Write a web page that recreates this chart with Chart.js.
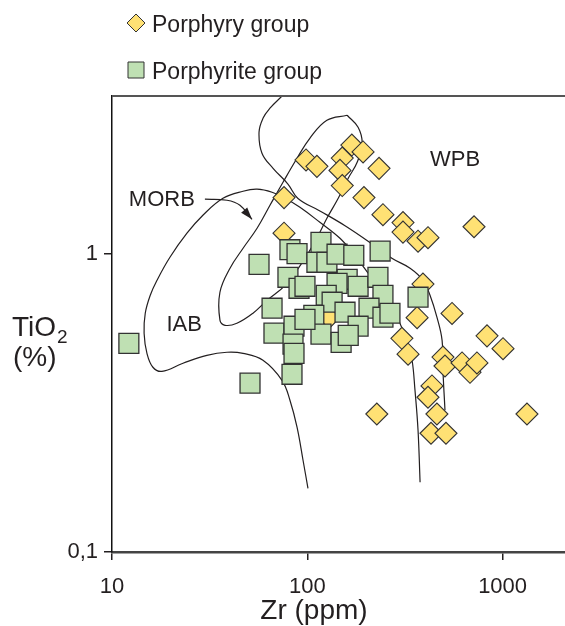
<!DOCTYPE html>
<html>
<head>
<meta charset="utf-8">
<title>TiO2 vs Zr</title>
<script src="https://cdn.jsdelivr.net/npm/chart.js@4.4.1/dist/chart.umd.min.js"></script>
<style>
  html, body { margin: 0; padding: 0; background: #fff; }
  #wrap { position: relative; width: 565px; height: 626px; }
</style>
</head>
<body>
<div id="wrap"><canvas id="chart" width="565" height="626"></canvas></div>
<script>
// --- data (Zr ppm, TiO2 %) ---
const porphyryZr = [98.5, 112, 169, 193, 151, 147, 151, 233, 195, 76, 244, 309, 309, 369, 415, 714, 76,
  391, 365, 551, 129, 305, 328, 832, 1005, 495, 507, 620, 681, 739, 435, 415, 227, 461, 430, 513, 1333];
const porphyryTiO2 = [2.06, 1.96, 2.31, 2.19, 2.09, 1.90, 1.69, 1.93, 1.54, 1.54, 1.35, 1.27, 1.18, 1.10, 1.13, 1.23, 1.17,
  0.79, 0.61, 0.63, 0.61, 0.52, 0.46, 0.53, 0.48, 0.45, 0.42, 0.43, 0.40, 0.43, 0.36, 0.33, 0.29, 0.29, 0.25, 0.25, 0.29];

const porphyriteZr = [117.5, 81.5, 88.6, 112, 126, 142, 173, 236, 56.6, 79.6, 90.7, 97.3, 160, 182, 230, 244, 142, 125, 134,
  66, 108, 156, 207, 244, 265, 369, 67.5, 85.5, 117.5, 182, 149, 84.5, 85.5, 83.5, 12.2, 50.9, 97.3, 162];
const porphyriteTiO2 = [1.09, 1.03, 1.00, 0.935, 0.935, 0.995, 0.987, 1.02, 0.92, 0.833, 0.765, 0.777, 0.82, 0.777, 0.833, 0.725, 0.795, 0.725, 0.687,
  0.656, 0.621, 0.636, 0.656, 0.612, 0.631, 0.714, 0.541, 0.571, 0.537, 0.571, 0.504, 0.497, 0.463, 0.394, 0.50, 0.368, 0.602, 0.532];

// field boundaries
const iabZr = [100.8, 95.1, 88.6, 81.5, 74.2, 59.3, 46.9, 38.8, 30.6, 23.1, 18.0, 16.2, 15.1, 14.6, 14.8, 15.7, 17.0, 19.8,
  24.2, 29.2, 37.0, 46.9, 55.3, 66.0, 76.9, 91.7, 116, 147, 175, 205, 250, 298, 328, 344, 356, 369, 378];
const iabTiO2 = [0.1635, 0.203, 0.262, 0.3225, 0.376, 0.439, 0.463, 0.467, 0.456, 0.429, 0.403, 0.416, 0.463, 0.541, 0.631, 0.725, 0.814, 0.972,
  1.17, 1.344, 1.532, 1.618, 1.643, 1.605, 1.532, 1.429, 1.273, 1.125, 0.987, 0.859, 0.714, 0.584, 0.493, 0.439, 0.348, 0.256, 0.1713];

const wpbZr = [74.2, 64.4, 59.3, 56.6, 58.6, 66.8, 79.6, 89.6, 116, 156, 209, 271, 336, 391, 425, 461, 490, 495, 507];
const wpbTiO2 = [3.37, 3.07, 2.84, 2.55, 2.17, 1.93, 1.71, 1.53, 1.39, 1.24, 1.09, 0.964, 0.893, 0.814, 0.725, 0.612, 0.512, 0.406, 0.2985];

const morbZr = [160, 182, 191, 180, 162, 144, 126, 116, 97.3, 76.9, 62.2, 52.7, 43.6, 37.9, 35.7, 35.7, 40.2, 46.9, 55.3, 64.4, 75.1, 88.6, 103, 126, 160];
const morbTiO2 = [2.908, 2.651, 2.342, 2.023, 1.788, 1.532, 1.313, 1.179, 0.964, 0.783, 0.697, 0.631, 0.584, 0.575, 0.598, 0.742, 0.893, 1.042, 1.216, 1.452, 1.734, 2.086, 2.434, 2.797, 2.908];

const arrowZr = [29.9, 38.8, 45.2, 52.1];
const arrowTiO2 = [1.521, 1.509, 1.452, 1.303];

const fieldNames = ['WPB', 'MORB', 'IAB'];
const fieldZr = [571, 18.0, 23.4];
const fieldTiO2 = [2.055, 1.509, 0.575];

const xTickValues = [10, 100, 1000];
const xTickLabels = ['10', '100', '1000'];
const yTickValues = [0.1, 1];
const yTickLabels = ['0,1', '1'];

const seriesNames = ['Porphyry group', 'Porphyrite group'];

// --- helpers ---
const FONT = '"Liberation Sans", Arial, Helvetica, sans-serif';
const INK = '#231f20';
const YELLOW = '#ffe174';
const GREEN = '#bfe0b3';
const EDGE = '#333333';

function toPoints(xs, ys) {
    return xs.map((x, i) => ({ x: x, y: ys[i] }));
}

function curve(label, xs, ys) {
    return {
        label: label,
        data: toPoints(xs, ys),
        showLine: true,
        borderColor: INK,
        borderWidth: 1.2,
        pointRadius: 0,
        pointHoverRadius: 0,
        tension: 0.4,
        fill: false,
        order: 2
    };
}

// custom drawing: frame top, arrowhead, field names, legend, axis titles
const decorPlugin = {
    id: 'decor',
    afterDatasetsDraw(chart) {
        const ctx = chart.ctx;
        const area = chart.chartArea;
        const xs = chart.scales.x;
        const ys = chart.scales.y;

        ctx.save();
        // top frame line
        ctx.strokeStyle = '#555';
        ctx.lineWidth = 2;
        ctx.beginPath();
        ctx.moveTo(area.left, area.top);
        ctx.lineTo(area.right, area.top);
        ctx.stroke();

        // arrowhead at the end of the MORB pointer
        const n = arrowZr.length;
        const x1 = xs.getPixelForValue(arrowZr[n - 2]), y1 = ys.getPixelForValue(arrowTiO2[n - 2]);
        const x2 = xs.getPixelForValue(arrowZr[n - 1]), y2 = ys.getPixelForValue(arrowTiO2[n - 1]);
        const ang = Math.atan2(y2 - y1, x2 - x1);
        ctx.fillStyle = INK;
        ctx.beginPath();
        ctx.moveTo(x2, y2);
        ctx.lineTo(x2 - 12 * Math.cos(ang) + 4 * Math.sin(ang), y2 - 12 * Math.sin(ang) - 4 * Math.cos(ang));
        ctx.lineTo(x2 - 12 * Math.cos(ang) - 4 * Math.sin(ang), y2 - 12 * Math.sin(ang) + 4 * Math.cos(ang));
        ctx.closePath();
        ctx.fill();

        // field names
        ctx.font = '22px ' + FONT;
        ctx.textAlign = 'center';
        ctx.textBaseline = 'middle';
        fieldNames.forEach((name, i) => {
            ctx.fillText(name, xs.getPixelForValue(fieldZr[i]), ys.getPixelForValue(fieldTiO2[i]));
        });
        ctx.restore();
    },
    afterDraw(chart) {
        const ctx = chart.ctx;
        ctx.save();

        // legend
        const sets = [chart.data.datasets[0], chart.data.datasets[1]];
        const rows = [23, 70];
        sets.forEach((ds, i) => {
            const cx = 136, cy = rows[i];
            ctx.fillStyle = ds.backgroundColor;
            ctx.strokeStyle = ds.borderColor;
            ctx.lineWidth = 1;
            ctx.beginPath();
            if (ds.pointStyle === 'rectRot') {
                ctx.moveTo(cx, cy - 9);
                ctx.lineTo(cx + 9, cy);
                ctx.lineTo(cx, cy + 9);
                ctx.lineTo(cx - 9, cy);
                ctx.closePath();
            } else {
                ctx.rect(cx - 8, cy - 8, 16, 16);
            }
            ctx.fill();
            ctx.stroke();
            ctx.fillStyle = INK;
            ctx.font = '23px ' + FONT;
            ctx.textAlign = 'left';
            ctx.textBaseline = 'alphabetic';
            ctx.fillText(ds.label, 152, cy + 8.5);
        });

        // x title
        ctx.fillStyle = INK;
        ctx.font = '28px ' + FONT;
        ctx.textAlign = 'center';
        ctx.fillText('Zr (ppm)', 314, 619);

        // y title
        ctx.textAlign = 'left';
        ctx.font = '28px ' + FONT;
        ctx.fillText('TiO', 12, 336);
        const w = ctx.measureText('TiO').width;
        ctx.font = '19px ' + FONT;
        ctx.fillText('2', 12 + w + 1, 343);
        ctx.font = '28px ' + FONT;
        ctx.fillText('(%)', 13, 366);
        ctx.restore();
    }
};

const ctx = document.getElementById('chart').getContext('2d');

new Chart(ctx, {
    type: 'scatter',
    data: {
        datasets: [
            {
                label: seriesNames[0],
                data: toPoints(porphyryZr, porphyryTiO2),
                pointStyle: 'rectRot',
                pointRadius: 11,
                pointHoverRadius: 11,
                backgroundColor: YELLOW,
                borderColor: EDGE,
                borderWidth: 1.1,
                order: 1
            },
            {
                label: seriesNames[1],
                data: toPoints(porphyriteZr, porphyriteTiO2),
                pointStyle: 'rect',
                pointRadius: 14.1,
                pointHoverRadius: 14.1,
                backgroundColor: GREEN,
                borderColor: EDGE,
                borderWidth: 1.3,
                order: 0
            },
            curve('WPB', wpbZr, wpbTiO2),
            curve('IAB', iabZr, iabTiO2),
            curve('MORB', morbZr, morbTiO2),
            curve('arrow', arrowZr, arrowTiO2)
        ]
    },
    options: {
        responsive: false,
        animation: false,
        events: [],
        layout: { autoPadding: false, padding: { top: 96, left: 0, right: 0, bottom: 0 } },
        plugins: {
            legend: { display: false },
            tooltip: { enabled: false }
        },
        scales: {
            x: {
                type: 'logarithmic',
                min: 10,
                max: 2087,
                afterBuildTicks: (s) => { s.ticks = xTickValues.map(v => ({ value: v })); },
                afterFit: (s) => { s.height = 74; s.paddingLeft = 0; s.paddingRight = 0; },
                ticks: {
                    callback: (v) => xTickLabels[xTickValues.indexOf(v)],
                    font: { size: 22, family: FONT },
                    color: INK,
                    padding: 14,
                    maxRotation: 0,
                    autoSkip: false
                },
                grid: {
                    display: true,
                    drawOnChartArea: false,
                    drawTicks: true,
                    tickLength: 8,
                    color: INK,
                    lineWidth: 1.5
                },
                border: { display: true, color: '#444', width: 2.5 }
            },
            y: {
                type: 'logarithmic',
                min: 0.1,
                max: 3.373,
                afterBuildTicks: (s) => { s.ticks = yTickValues.map(v => ({ value: v })); },
                afterFit: (s) => { s.width = 112; s.paddingTop = 0; s.paddingBottom = 0; },
                ticks: {
                    callback: (v) => yTickLabels[yTickValues.indexOf(v)],
                    font: { size: 22, family: FONT },
                    color: INK,
                    padding: 6,
                    autoSkip: false
                },
                grid: {
                    display: true,
                    drawOnChartArea: false,
                    drawTicks: true,
                    tickLength: 8,
                    color: INK,
                    lineWidth: 1.5
                },
                border: { display: true, color: '#111', width: 1.5 }
            }
        }
    },
    plugins: [decorPlugin]
});
</script>
</body>
</html>
